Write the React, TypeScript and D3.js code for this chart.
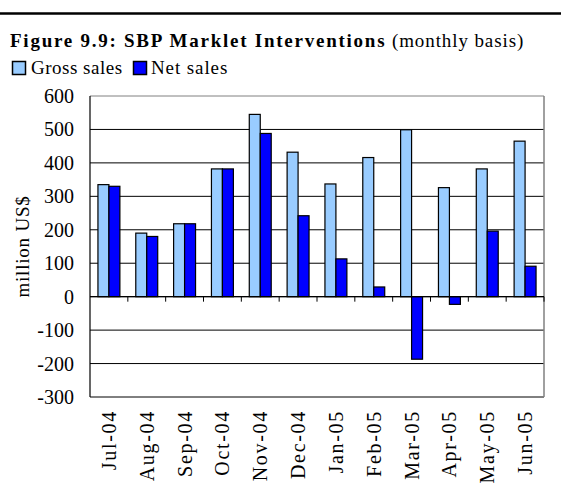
import React from "react";
import * as d3 from "d3";

const categories = ["Jul-04","Aug-04","Sep-04","Oct-04","Nov-04","Dec-04","Jan-05","Feb-05","Mar-05","Apr-05","May-05","Jun-05"];
const grossSales = [335, 190, 218, 382, 545, 432, 337, 416, 499, 326, 382, 465];
const netSales = [330, 180, 218, 382, 488, 242, 113, 29, -187, -23, 196, 91];
const yTicks = [600, 500, 400, 300, 200, 100, 0, -100, -200, -300];
const seriesNames = ["Gross sales", "Net sales"];
const colors = ["#99CCFF", "#0000FF"];

const FONT = "'Liberation Serif', 'Times New Roman', serif";

export default function App() {
  const W = 561, H = 498;
  const left = 90, right = 544, top = 96, bottom = 397;
  const y = d3.scaleLinear().domain([-300, 600]).range([bottom, top]);
  const x = d3.scaleBand().domain(categories).range([left, right]).paddingInner(0.42).paddingOuter(0.21);
  const bw = x.bandwidth() / 2;
  const step = (right - left) / categories.length;
  const y0 = y(0);

  return (
    <svg width={W} height={H} style={{ position: "absolute", left: 0, top: 0, background: "#fff" }} fontFamily={FONT}>
      <rect x={0} y={0} width={W} height={H} fill="#fff" />
      <line x1={0} x2={W} y1={13.5} y2={13.5} stroke="#000" strokeWidth={2.5} />
      <text x={10} y={47} fontSize={19} fill="#000">
        <tspan fontWeight="bold" letterSpacing={1.75}>Figure 9.9: SBP Marklet Interventions</tspan>
        <tspan letterSpacing={0.9}> (monthly basis)</tspan>
      </text>
      {/* legend */}
      <rect x={12.5} y={61.5} width={13} height={13} fill={colors[0]} stroke="#000" strokeWidth={1.5} />
      <text x={31} y={74} fontSize={19} letterSpacing={0.5}>{seriesNames[0]}</text>
      <rect x={133.5} y={61.5} width={13} height={13} fill={colors[1]} stroke="#000" strokeWidth={1.5} />
      <text x={151} y={74} fontSize={19} letterSpacing={0.9}>{seriesNames[1]}</text>

      {/* plot frame & gridlines */}
      {yTicks.map((t) => (
        <line key={"g" + t} x1={left} x2={right} y1={y(t)} y2={y(t)}
          stroke={t === 600 ? "#808080" : "#000"} strokeWidth={1} />
      ))}
      <line x1={right} x2={right} y1={top} y2={bottom} stroke="#808080" strokeWidth={1.5} />
      <line x1={left} x2={left} y1={top} y2={bottom} stroke="#000" strokeWidth={1.2} />
      {yTicks.map((t) => (
        <text key={"yt" + t} x={74} y={y(t)} dy="0.35em" fontSize={20} textAnchor="end">{t}</text>
      ))}
      <text transform={`translate(22,${(top + bottom) / 2}) rotate(-90)`} fontSize={19} letterSpacing={0.8} textAnchor="middle" dy="0.35em">million US$</text>

      {/* bars */}
      {categories.map((c, i) => {
        const gx = x(c) as number;
        const g = grossSales[i], n = netSales[i];
        return (
          <g key={c}>
            <rect x={gx} y={Math.min(y(g), y0)} width={bw} height={Math.abs(y(g) - y0)} fill={colors[0]} stroke="#000" strokeWidth={1.2} />
            <rect x={gx + bw} y={Math.min(y(n), y0)} width={bw} height={Math.abs(y(n) - y0)} fill={colors[1]} stroke="#000" strokeWidth={1.2} />
          </g>
        );
      })}
      {/* zero axis */}
      <line x1={left} x2={right} y1={y0} y2={y0} stroke="#000" strokeWidth={1.2} />
      {categories.map((c, i) => (
        <line key={"tk" + c} x1={left + step * (i + 1)} x2={left + step * (i + 1)} y1={y0} y2={y0 + 5} stroke="#000" strokeWidth={1} />
      ))}
      {categories.map((c) => (
        <text key={"xl" + c} transform={`translate(${(x(c) as number) + x.bandwidth() / 2},410) rotate(-90)`} fontSize={20} letterSpacing={1.7} textAnchor="end" dy="0.35em">{c}</text>
      ))}
    </svg>
  );
}
